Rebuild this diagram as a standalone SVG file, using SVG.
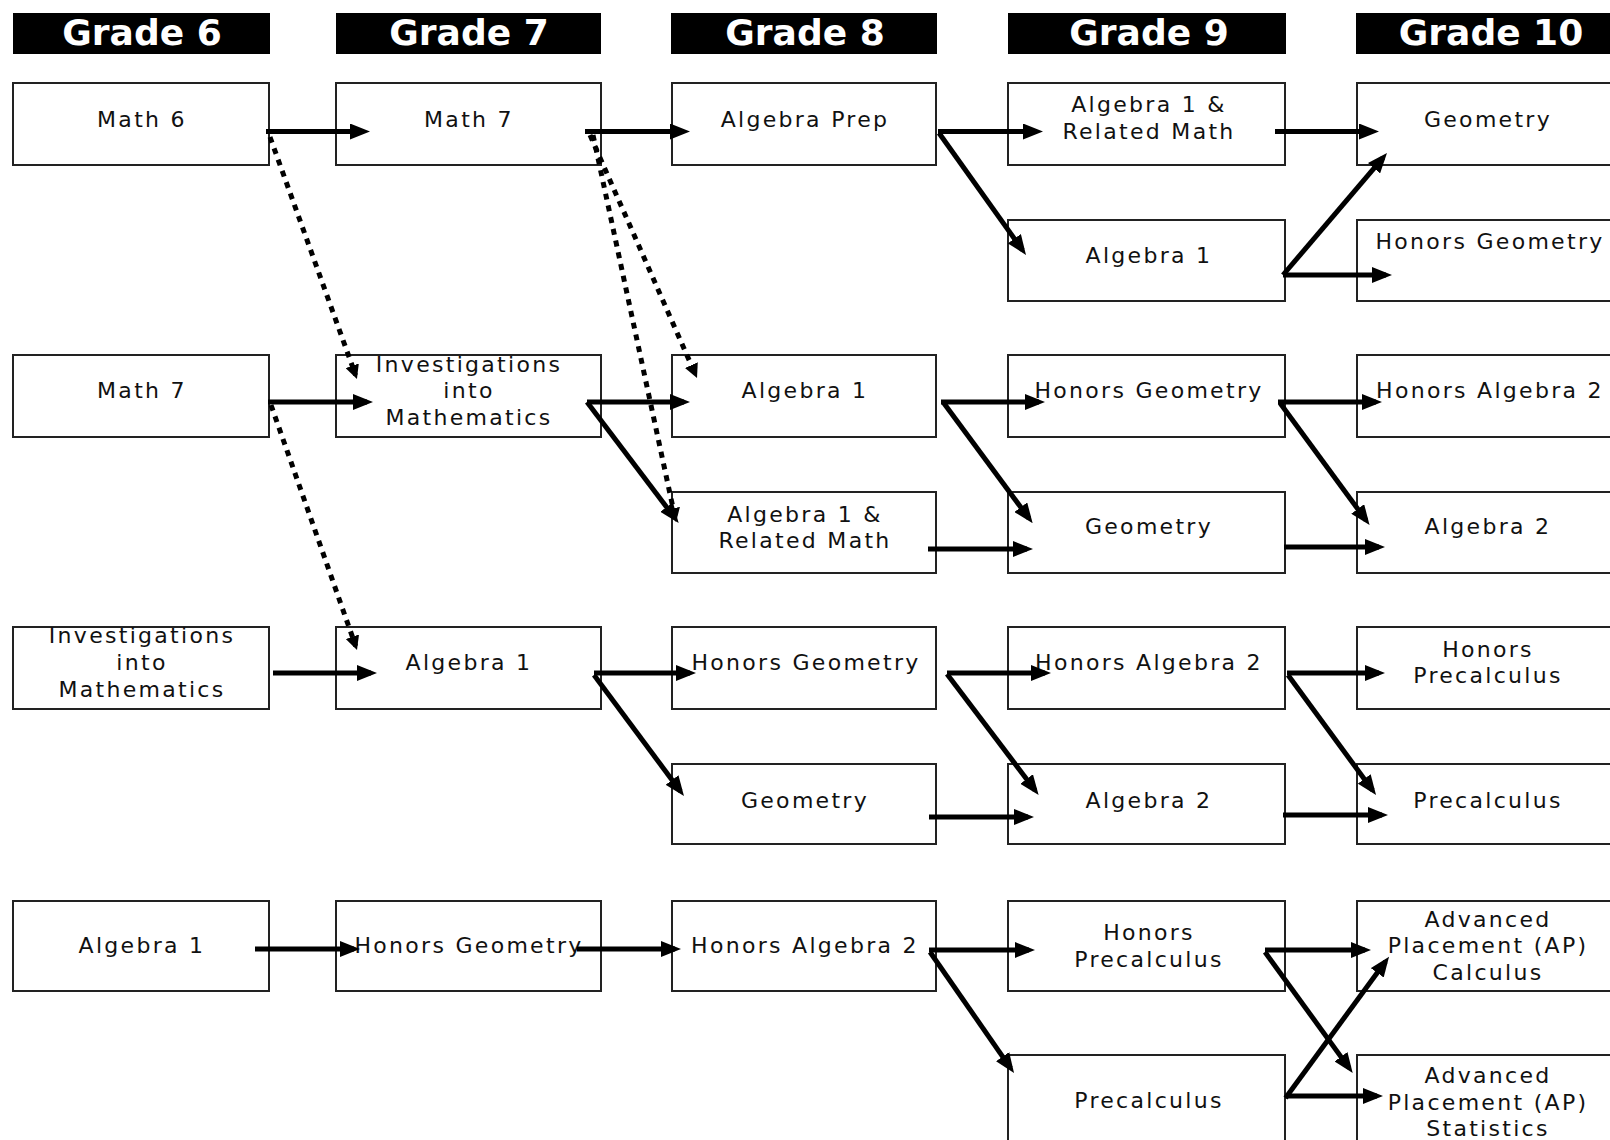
<svg xmlns="http://www.w3.org/2000/svg" width="1610" height="1140" viewBox="0 0 1610 1140">
<style>
.hdr{fill:#000}
.ht{fill:#fff;font-family:"DejaVu Sans",sans-serif;font-weight:bold;font-size:36px;text-anchor:middle}
.box{fill:#fff;stroke:#222;stroke-width:2}
.t{fill:#111;font-family:"DejaVu Sans",sans-serif;font-size:22px;letter-spacing:2.3px;text-anchor:middle}
.c{fill:none;stroke:#000;stroke-width:5;marker-end:url(#ah)}
.d{fill:none;stroke:#000;stroke-width:5;stroke-dasharray:6 6;marker-end:url(#dh)}
</style>
<defs>
<marker id="ah" markerUnits="userSpaceOnUse" markerWidth="20" markerHeight="16" refX="14" refY="8" orient="auto"><path d="M0,0 L20,8 L0,16 z" fill="#000"/></marker>
<marker id="dh" markerUnits="userSpaceOnUse" markerWidth="14" markerHeight="14" refX="10" refY="7" orient="auto"><path d="M0,0 L14,7 L0,14 z" fill="#000"/></marker>
</defs>
<rect width="1610" height="1140" fill="#fff"/>
<g id="headers">
<rect class="hdr" x="13" y="13" width="257" height="41"/><text class="ht" x="142" y="45">Grade 6</text>
<rect class="hdr" x="336" y="13" width="265" height="41"/><text class="ht" x="469" y="45">Grade 7</text>
<rect class="hdr" x="671" y="13" width="266" height="41"/><text class="ht" x="805" y="45">Grade 8</text>
<rect class="hdr" x="1008" y="13" width="278" height="41"/><text class="ht" x="1149" y="45">Grade 9</text>
<rect class="hdr" x="1356" y="13" width="280" height="41"/><text class="ht" x="1491" y="45">Grade 10</text>
</g>
<g id="n-g6-math6"><rect class="box" x="13" y="83" width="256" height="82"/><text class="t" x="142" y="127">Math 6</text></g>
<g id="n-g7-math7"><rect class="box" x="336" y="83" width="265" height="82"/><text class="t" x="469" y="127">Math 7</text></g>
<g id="n-g8-algprep"><rect class="box" x="672" y="83" width="264" height="82"/><text class="t" x="805" y="127">Algebra Prep</text></g>
<g id="n-g9-alg1rm"><rect class="box" x="1008" y="83" width="277" height="82"/><text class="t" x="1149" y="112">Algebra 1 &amp;</text><text class="t" x="1149" y="139">Related Math</text></g>
<g id="n-g10-geom-a"><rect class="box" x="1357" y="83" width="264" height="82"/><text class="t" x="1488" y="127">Geometry</text></g>
<g id="n-g9-alg1-b"><rect class="box" x="1008" y="220" width="277" height="81"/><text class="t" x="1149" y="263">Algebra 1</text></g>
<g id="n-g10-hgeom-b"><rect class="box" x="1357" y="220" width="264" height="81"/><text class="t" x="1490" y="249">Honors Geometry</text></g>
<g id="n-g6-math7"><rect class="box" x="13" y="355" width="256" height="82"/><text class="t" x="142" y="398">Math 7</text></g>
<g id="n-g7-inv"><rect class="box" x="336" y="355" width="265" height="82"/><text class="t" x="469" y="372">Investigations</text><text class="t" x="469" y="398">into</text><text class="t" x="469" y="425">Mathematics</text></g>
<g id="n-g8-alg1-c"><rect class="box" x="672" y="355" width="264" height="82"/><text class="t" x="805" y="398">Algebra 1</text></g>
<g id="n-g9-hgeom-c"><rect class="box" x="1008" y="355" width="277" height="82"/><text class="t" x="1149" y="398">Honors Geometry</text></g>
<g id="n-g10-halg2-c"><rect class="box" x="1357" y="355" width="264" height="82"/><text class="t" x="1490" y="398">Honors Algebra 2</text></g>
<g id="n-g8-alg1rm-d"><rect class="box" x="672" y="492" width="264" height="81"/><text class="t" x="805" y="522">Algebra 1 &amp;</text><text class="t" x="805" y="548">Related Math</text></g>
<g id="n-g9-geom-d"><rect class="box" x="1008" y="492" width="277" height="81"/><text class="t" x="1149" y="534">Geometry</text></g>
<g id="n-g10-alg2-d"><rect class="box" x="1357" y="492" width="264" height="81"/><text class="t" x="1488" y="534">Algebra 2</text></g>
<g id="n-g6-inv"><rect class="box" x="13" y="627" width="256" height="82"/><text class="t" x="142" y="643">Investigations</text><text class="t" x="142" y="670">into</text><text class="t" x="142" y="697">Mathematics</text></g>
<g id="n-g7-alg1-e"><rect class="box" x="336" y="627" width="265" height="82"/><text class="t" x="469" y="670">Algebra 1</text></g>
<g id="n-g8-hgeom-e"><rect class="box" x="672" y="627" width="264" height="82"/><text class="t" x="806" y="670">Honors Geometry</text></g>
<g id="n-g9-halg2-e"><rect class="box" x="1008" y="627" width="277" height="82"/><text class="t" x="1149" y="670">Honors Algebra 2</text></g>
<g id="n-g10-hprecalc-e"><rect class="box" x="1357" y="627" width="264" height="82"/><text class="t" x="1488" y="657">Honors</text><text class="t" x="1488" y="683">Precalculus</text></g>
<g id="n-g8-geom-f"><rect class="box" x="672" y="764" width="264" height="80"/><text class="t" x="805" y="808">Geometry</text></g>
<g id="n-g9-alg2-f"><rect class="box" x="1008" y="764" width="277" height="80"/><text class="t" x="1149" y="808">Algebra 2</text></g>
<g id="n-g10-precalc-f"><rect class="box" x="1357" y="764" width="264" height="80"/><text class="t" x="1488" y="808">Precalculus</text></g>
<g id="n-g6-alg1-g"><rect class="box" x="13" y="901" width="256" height="90"/><text class="t" x="142" y="953">Algebra 1</text></g>
<g id="n-g7-hgeom-g"><rect class="box" x="336" y="901" width="265" height="90"/><text class="t" x="469" y="953">Honors Geometry</text></g>
<g id="n-g8-halg2-g"><rect class="box" x="672" y="901" width="264" height="90"/><text class="t" x="805" y="953">Honors Algebra 2</text></g>
<g id="n-g9-hprecalc-g"><rect class="box" x="1008" y="901" width="277" height="90"/><text class="t" x="1149" y="940">Honors</text><text class="t" x="1149" y="967">Precalculus</text></g>
<g id="n-g10-apcalc-g"><rect class="box" x="1357" y="901" width="264" height="90"/><text class="t" x="1488" y="927">Advanced</text><text class="t" x="1488" y="953">Placement (AP)</text><text class="t" x="1488" y="980">Calculus</text></g>
<g id="n-g9-precalc-h"><rect class="box" x="1008" y="1055" width="277" height="90"/><text class="t" x="1149" y="1108">Precalculus</text></g>
<g id="n-g10-apstat-h"><rect class="box" x="1357" y="1055" width="264" height="90"/><text class="t" x="1488" y="1083">Advanced</text><text class="t" x="1488" y="1110">Placement (AP)</text><text class="t" x="1488" y="1136">Statistics</text></g>
<g id="connectors">
<path class="c" d="M266,131.5 L364,131.5"/>
<path class="c" d="M585,131.5 L684,131.5"/>
<path class="c" d="M938,131.5 L1037,131.5"/>
<path class="c" d="M1275,131.5 L1373,131.5"/>
<path class="c" d="M1283,275 L1386,275"/>
<path class="c" d="M268,402 L367,402"/>
<path class="c" d="M587,402 L684,402"/>
<path class="c" d="M941,402 L1039,402"/>
<path class="c" d="M928,549 L1027,549"/>
<path class="c" d="M1278,402 L1376,402"/>
<path class="c" d="M1284,547 L1379,547"/>
<path class="c" d="M273,673 L371,673"/>
<path class="c" d="M594,673 L690,673"/>
<path class="c" d="M947,673 L1045,673"/>
<path class="c" d="M929,817 L1028,817"/>
<path class="c" d="M1287,673 L1379,673"/>
<path class="c" d="M1283,815 L1382,815"/>
<path class="c" d="M255,949 L354,949"/>
<path class="c" d="M577,949 L675,949"/>
<path class="c" d="M929,950 L1029,950"/>
<path class="c" d="M1265,950 L1365,950"/>
<path class="c" d="M1285.5,1096 L1377,1096"/>
<path class="c" d="M939,133 L1022.5,250.1"/>
<path class="c" d="M1283,275 L1383.1,157.6"/>
<path class="c" d="M587,402 L675,518.2"/>
<path class="c" d="M943,402 L1029.1,518.5"/>
<path class="c" d="M1280,403 L1366,520.2"/>
<path class="c" d="M594,675 L680.4,791.2"/>
<path class="c" d="M947,674 L1035,790.2"/>
<path class="c" d="M1288,675 L1372.5,790.2"/>
<path class="c" d="M930,952 L1010.6,1068.1"/>
<path class="c" d="M1265,952 L1349.2,1068.1"/>
<path class="c" d="M1285.5,1098 L1385.5,961.5"/>
<path class="d" d="M270,137 L355.6,375.2"/>
<path class="d" d="M590,135 L695.4,374.3"/>
<path class="d" d="M593,135 L675.2,518.1"/>
<path class="d" d="M271,405 L355.7,646.2"/>
</g>
</svg>
